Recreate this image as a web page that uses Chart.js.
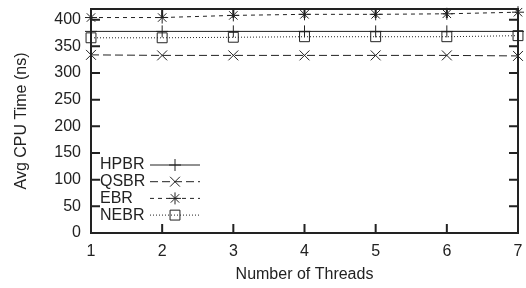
<!DOCTYPE html>
<html>
<head>
<meta charset="utf-8">
<script src="https://cdn.jsdelivr.net/npm/chart.js@4/dist/chart.umd.min.js"></script>
<style>
  html, body { margin: 0; padding: 0; background: #fff; }
  #wrap { width: 526px; height: 288px; }
</style>
</head>
<body>
<div id="wrap"><canvas id="chart"></canvas></div>
<script>
const threads = [1, 2, 3, 4, 5, 6, 7]
const hpbr = [378, 378, 378, 378, 378, 378, 378]
const qsbr = [334, 333, 333, 333, 333, 333, 332]
const ebr = [404, 404, 408, 410, 410, 411, 414]
const nebr = [366, 366, 367, 368, 368, 368, 370]
const yTicks = [0, 50, 100, 150, 200, 250, 300, 350, 400]

const ink = '#222'
const font = { family: 'Liberation Sans, Arial, sans-serif', size: 16 }

function pts(values) {
    return threads.map((t, i) => ({ x: t, y: values[i] }))
}

function series(label, values, style, radius, dash) {
    return {
        label: label,
        data: pts(values),
        borderColor: ink,
        borderWidth: 1,
        borderDash: dash,
        pointStyle: style,
        pointRadius: radius,
        pointBorderWidth: 1,
        pointBorderColor: ink,
        pointBackgroundColor: 'rgba(0,0,0,0)',
        fill: false,
        tension: 0,
        clip: false
    }
}

// gnuplot-ish frame, inward ticks and key
const gnuFrame = {
    id: 'gnuFrame',
    afterDatasetsDraw(chart) {
        const { ctx, chartArea: a, scales } = chart
        ctx.save()
        ctx.strokeStyle = ink
        ctx.lineWidth = 2
        ctx.strokeRect(a.left, a.top, a.right - a.left, a.bottom - a.top)
        const len = 9
        ctx.beginPath()
        yTicks.forEach(v => {
            const y = scales.y.getPixelForValue(v)
            ctx.moveTo(a.left, y); ctx.lineTo(a.left + len, y)
            ctx.moveTo(a.right, y); ctx.lineTo(a.right - len, y)
        })
        threads.forEach(t => {
            const x = scales.x.getPixelForValue(t)
            ctx.moveTo(x, a.bottom); ctx.lineTo(x, a.bottom - len)
            ctx.moveTo(x, a.top); ctx.lineTo(x, a.top + len)
        })
        ctx.stroke()

        // key
        ctx.font = font.size + 'px ' + font.family
        ctx.textAlign = 'left'
        ctx.textBaseline = 'middle'
        ctx.fillStyle = ink
        chart.data.datasets.forEach((ds, i) => {
            const y = a.top + 156 + i * 16.7
            ctx.fillText(ds.label, a.left + 9, y)
            ctx.save()
            ctx.lineWidth = 1
            ctx.strokeStyle = ink
            ctx.setLineDash(ds.borderDash || [])
            ctx.beginPath()
            ctx.moveTo(a.left + 59, y)
            ctx.lineTo(a.left + 109, y)
            ctx.stroke()
            ctx.setLineDash([])
            ctx.fillStyle = 'rgba(0,0,0,0)'
            Chart.helpers.drawPoint(ctx, {
                pointStyle: ds.pointStyle,
                radius: ds.pointRadius,
                borderWidth: 1
            }, a.left + 84, y)
            ctx.restore()
        })
        ctx.restore()
    }
}

new Chart(document.getElementById('chart'), {
    type: 'line',
    data: {
        datasets: [
            series('HPBR', hpbr, 'cross', 6, []),
            series('QSBR', qsbr, 'crossRot', 7, [8, 4]),
            series('EBR', ebr, 'star', 6, [4, 4]),
            series('NEBR', nebr, 'rect', 7, [1, 2])
        ]
    },
    options: {
        responsive: true,
        maintainAspectRatio: false,
        animation: false,
        layout: { padding: { top: 9, right: 8, left: 0, bottom: 0 } },
        plugins: { legend: { display: false }, tooltip: { enabled: false } },
        scales: {
            x: {
                type: 'linear',
                min: 1,
                max: 7,
                grid: { display: false, drawTicks: false },
                border: { display: false },
                ticks: { stepSize: 1, color: ink, font: font, padding: 9 },
                title: { display: true, text: 'Number of Threads', color: ink, font: font, padding: { top: 2, bottom: 4 } },
                afterFit(scale) {
                    scale.height = 55
                    scale.paddingLeft = 0
                    scale.paddingRight = 0
                }
            },
            y: {
                min: 0,
                max: 420,
                grid: { display: false, drawTicks: false },
                border: { display: false },
                ticks: { stepSize: 50, includeBounds: false, color: ink, font: font, padding: 10 },
                afterBuildTicks(scale) { scale.ticks = yTicks.map(v => ({ value: v })) },
                title: { display: true, text: 'Avg CPU Time (ns)', color: ink, font: font, padding: { top: 12, bottom: 4 } },
                afterFit(scale) {
                    scale.width = 91
                    scale.paddingTop = 0
                    scale.paddingBottom = 0
                }
            }
        }
    },
    plugins: [gnuFrame]
})
</script>
</body>
</html>
